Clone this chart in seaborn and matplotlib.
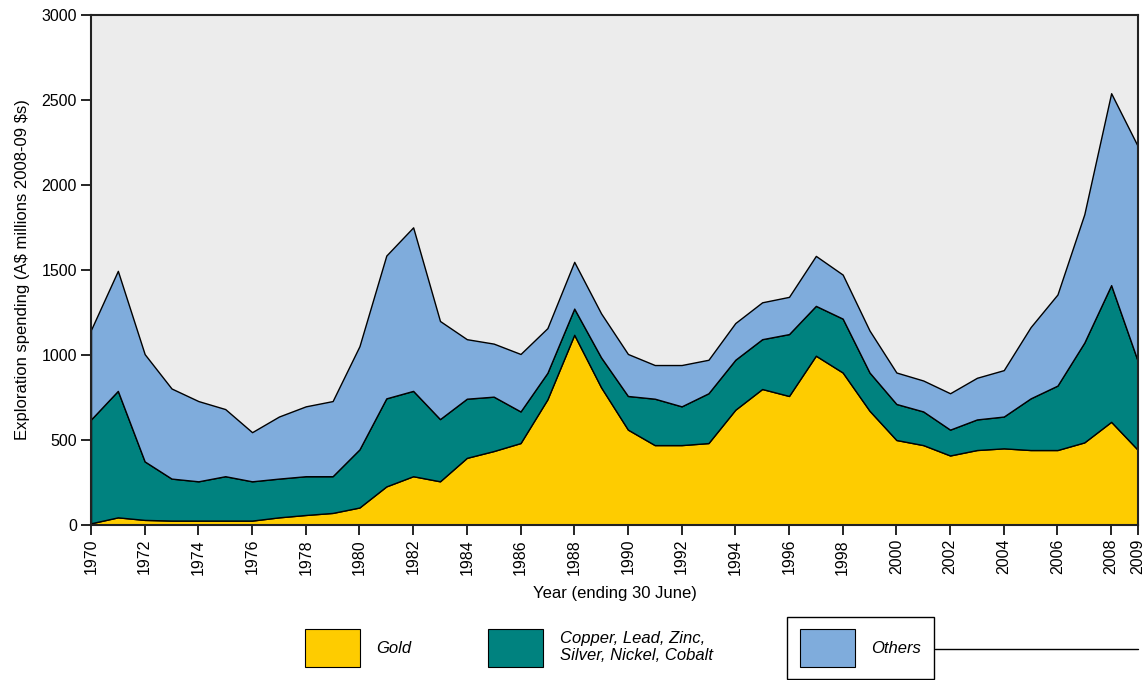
import matplotlib
matplotlib.use('Agg')
import matplotlib.pyplot as plt
from matplotlib.patches import Patch
import numpy as np
import pandas as pd
import seaborn as sns

years = list(range(1970, 2010))
gold = [10, 45, 30, 26, 26, 26, 26, 45, 59, 71,
        103, 227, 287, 257, 395, 435, 482, 739, 1119, 810,
        561, 470, 470, 482, 678, 800, 759, 996, 897, 672,
        500, 470, 409, 441, 451, 441, 441, 486, 607, 441]
base_metals_top = [621, 789, 374, 273, 257, 287, 257, 273, 287, 287,
                   445, 745, 789, 623, 743, 755, 668, 895, 1273, 986,
                   759, 743, 698, 775, 972, 1093, 1123, 1289, 1214, 897,
                   712, 668, 561, 621, 638, 745, 820, 1073, 1411, 961]
total = [1148, 1495, 1005, 803, 729, 682, 546, 638, 698, 729,
         1052, 1585, 1751, 1200, 1093, 1067, 1006, 1158, 1548, 1245,
         1006, 941, 941, 972, 1188, 1310, 1342, 1583, 1473, 1144,
         897, 850, 775, 866, 911, 1164, 1356, 1828, 2540, 2226]

df = pd.DataFrame({'Year': years, 'Gold': gold,
                   'Base': np.array(base_metals_top) - np.array(gold),
                   'Others': np.array(total) - np.array(base_metals_top)})

labels = ['Gold', 'Copper, Lead, Zinc,\nSilver, Nickel, Cobalt', 'Others']
colors = ['#FECC00', '#00827F', '#7FACDC']

sns.set_style('white', {'axes.facecolor': '#ECECEC', 'axes.edgecolor': '#222222',
                        'text.color': 'black', 'xtick.color': 'black', 'ytick.color': 'black',
                        'axes.labelcolor': 'black'})
plt.rcParams['font.family'] = ['Liberation Sans Narrow', 'Liberation Sans', 'DejaVu Sans']
plt.rcParams['font.size'] = 11.5

fig = plt.figure(figsize=(11.47, 6.80), dpi=100)
ax = fig.add_axes([91 / 1147, 1 - 525 / 680, (1138 - 91) / 1147, (525 - 15) / 680])

ax.stackplot(df['Year'], df['Gold'], df['Base'], df['Others'],
             colors=colors, edgecolor='black', linewidth=1)

ax.set_xlim(1970, 2009)
ax.set_ylim(0, 3000)
xt = list(range(1970, 2009, 2)) + [2009]
ax.set_xticks(xt)
ax.set_xticklabels([str(y) for y in xt], rotation=90)
ax.set_yticks(range(0, 3001, 500))
ax.tick_params(axis='both', direction='out', length=7, width=1.2, color='black',
               bottom=True, left=True, labelsize=11.5, pad=3)
for s in ax.spines.values():
    s.set_linewidth(1.5)
ax.set_xlabel('Year (ending 30 June)', fontsize=12, labelpad=8)
ax.set_ylabel('Exploration spending (A\\$ millions 2008-09 \\$s)', fontsize=12, labelpad=8)

handles = [Patch(facecolor=c, edgecolor='black', linewidth=0.8) for c in colors]
leg1 = fig.legend(handles[:2], labels[:2], loc='center left', bbox_to_anchor=(290 / 1147, 1 - 648 / 680),
                  ncol=2, frameon=False, prop={'style': 'italic', 'size': 12},
                  handlelength=3.3, handleheight=3.1, columnspacing=4.6, handletextpad=1.0)
leg2 = fig.legend(handles[2:], labels[2:], loc='center left', bbox_to_anchor=(787 / 1147, 1 - 648 / 680),
                  frameon=True, fancybox=False, edgecolor='black', facecolor='white', framealpha=1,
                  prop={'style': 'italic', 'size': 12},
                  handlelength=3.3, handleheight=3.1, handletextpad=1.0, borderpad=0.75,
                  borderaxespad=0)
leg2.get_frame().set_linewidth(1)
fig.add_artist(plt.Line2D([935 / 1147, 1138 / 1147], [1 - 649 / 680, 1 - 649 / 680],
                          transform=fig.transFigure, color='black', linewidth=1))

fig.savefig('out.png', dpi=100, facecolor='white')
